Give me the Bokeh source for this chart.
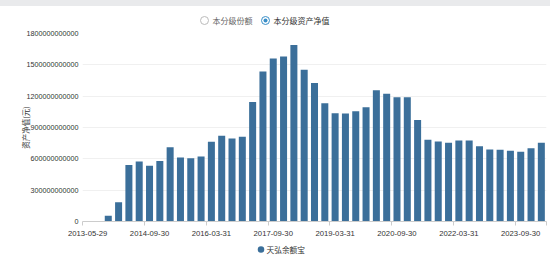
from bokeh.plotting import figure
from bokeh.models import ColumnDataSource, FixedTicker, Range1d, Spacer
from bokeh.layouts import column
from bokeh.core.properties import value
from bokeh.embed import file_html
from bokeh.resources import INLINE

# ---- data ----
dates = [
    "2013-05-29", "2013-06-30", "2013-09-30", "2013-12-31",
    "2014-03-31", "2014-06-30", "2014-09-30", "2014-12-31",
    "2015-03-31", "2015-06-30", "2015-09-30", "2015-12-31",
    "2016-03-31", "2016-06-30", "2016-09-30", "2016-12-31",
    "2017-03-31", "2017-06-30", "2017-09-30", "2017-12-31",
    "2018-03-31", "2018-06-30", "2018-09-30", "2018-12-31",
    "2019-03-31", "2019-06-30", "2019-09-30", "2019-12-31",
    "2020-03-31", "2020-06-30", "2020-09-30", "2020-12-31",
    "2021-03-31", "2021-06-30", "2021-09-30", "2021-12-31",
    "2022-03-31", "2022-06-30", "2022-09-30", "2022-12-31",
    "2023-03-31", "2023-06-30", "2023-09-30", "2023-12-31",
    "2024-03-31",
]
# net asset value, in billions of yuan
values_bn = [
    1, 4, 56, 185,
    541, 574, 534, 579,
    712, 613, 606, 622,
    763, 820, 795, 811,
    1143, 1436, 1560, 1580,
    1690, 1453, 1327, 1133,
    1037, 1034, 1056, 1094,
    1257, 1222, 1190, 1190,
    973, 782, 766, 753,
    775, 775, 721, 689,
    686, 677, 667, 702,
    753,
]
label_dates = ["2013-05-29", "2014-09-30", "2016-03-31", "2017-09-30",
               "2019-03-31", "2020-09-30", "2022-03-31", "2023-09-30"]
y_ticks = [0, 300e9, 600e9, 900e9, 1200e9, 1500e9, 1800e9]
series_name = "天弘余额宝"
switch_options = ["本分级份额", "本分级资产净值"]
y_title = "资产净值(元)"

BAR = "#3b6f9a"
ACCENT = "#3a8fc8"
PAGE = "#e9eaec"
CJK = "Noto Sans CJK SC"
LAT = "Liberation Sans"
W = 550
BL, BR = 82, 4  # left / right borders shared by all stacked figures


def strip_fig(y0, y1):
    """A frameless strip whose coordinates equal page pixels (x right, y down)."""
    f = figure(width=W, height=y1 - y0, x_range=Range1d(BL, W - BR), y_range=Range1d(y1, y0),
               output_backend="svg", toolbar_location=None,
               x_axis_location=None, y_axis_location=None,
               min_border_left=BL, min_border_right=BR, min_border_top=0, min_border_bottom=0)
    f.grid.visible = False
    f.outline_line_color = None
    f.background_fill_color = "white"
    f.border_fill_color = "white"
    return f


band = Spacer(width=W, height=6, styles={"background-color": PAGE})

# ---- top: radio switch ----
top = strip_fig(6, 27)
top.scatter(x=[204], y=[20], size=8, marker="circle", fill_color="white",
            line_color="#bbbbbb", line_width=1)
top.scatter(x=[265], y=[20], size=8, marker="circle", fill_color="white",
            line_color=ACCENT, line_width=1)
top.scatter(x=[265], y=[20], size=4, marker="circle", fill_color=ACCENT, line_color=None)
top.text(x=[212], y=[20], text=[switch_options[0]], text_baseline="middle",
         text_font=value(CJK), text_font_size=value("8px"), text_color="#666666")
top.text(x=[273], y=[20], text=[switch_options[1]], text_baseline="middle",
         text_font=value(CJK), text_font_size=value("8px"), text_color="#333333")

# ---- main chart ----
x = list(range(len(dates)))
src = ColumnDataSource(dict(x=x, date=dates, value=[v * 1e9 for v in values_bn]))

p = figure(width=W, height=211, x_range=(-0.5, len(dates) - 0.5),
           y_range=(0, y_ticks[-1]), output_backend="svg", toolbar_location=None,
           min_border_left=BL, min_border_right=BR, min_border_top=6, min_border_bottom=17)
p.background_fill_color = "white"
p.border_fill_color = "white"
p.outline_line_color = None

p.vbar(x="x", top="value", width=0.68, source=src, fill_color=BAR, line_color=None)

# y axis
p.yaxis.ticker = FixedTicker(ticks=y_ticks)
p.yaxis.major_label_overrides = {v: str(int(v)) for v in y_ticks}
p.yaxis.axis_line_color = None
p.yaxis.major_tick_line_color = None
p.yaxis.minor_tick_line_color = None
p.yaxis.major_tick_out = 0
p.yaxis.major_tick_in = 0
p.yaxis.major_label_standoff = 4
p.yaxis.major_label_text_font = LAT
p.yaxis.major_label_text_font_size = "7.2px"
p.yaxis.major_label_text_color = "#333333"
p.yaxis.axis_label = y_title
p.yaxis.axis_label_standoff = -7
p.yaxis.axis_label_text_font = CJK
p.yaxis.axis_label_text_font_size = "7.5px"
p.yaxis.axis_label_text_font_style = "normal"
p.yaxis.axis_label_text_color = "#333333"
p.ygrid.grid_line_color = "#f0f0f0"
p.xgrid.grid_line_color = None

# x axis
label_idx = [dates.index(d) for d in label_dates]
p.xaxis.ticker = FixedTicker(ticks=label_idx,
                             minor_ticks=[i - 0.5 for i in label_idx] + [len(dates) - 0.5])
p.xaxis.major_label_overrides = {i: dates[i] for i in label_idx}
p.xaxis.axis_line_color = "#cccccc"
p.xaxis.major_tick_line_color = None
p.xaxis.major_tick_out = 0
p.xaxis.major_tick_in = 0
p.xaxis.minor_tick_line_color = "#cccccc"
p.xaxis.minor_tick_out = 4
p.xaxis.minor_tick_in = 0
p.xaxis.major_label_standoff = 5
p.xaxis.major_label_text_font = LAT
p.xaxis.major_label_text_font_size = "7.7px"
p.xaxis.major_label_text_color = "#333333"

# ---- bottom: series legend ----
bot = strip_fig(238, 258)
bot.scatter(x=[260.5], y=[249], size=6.5, marker="circle", fill_color=BAR, line_color=None)
bot.text(x=[266], y=[249], text=[series_name], text_baseline="middle",
         text_font=value(CJK), text_font_size=value("7.7px"), text_color="#333333")

layout = column(band, top, p, bot, spacing=0)

open("out.html", "w").write(file_html(layout, INLINE))
